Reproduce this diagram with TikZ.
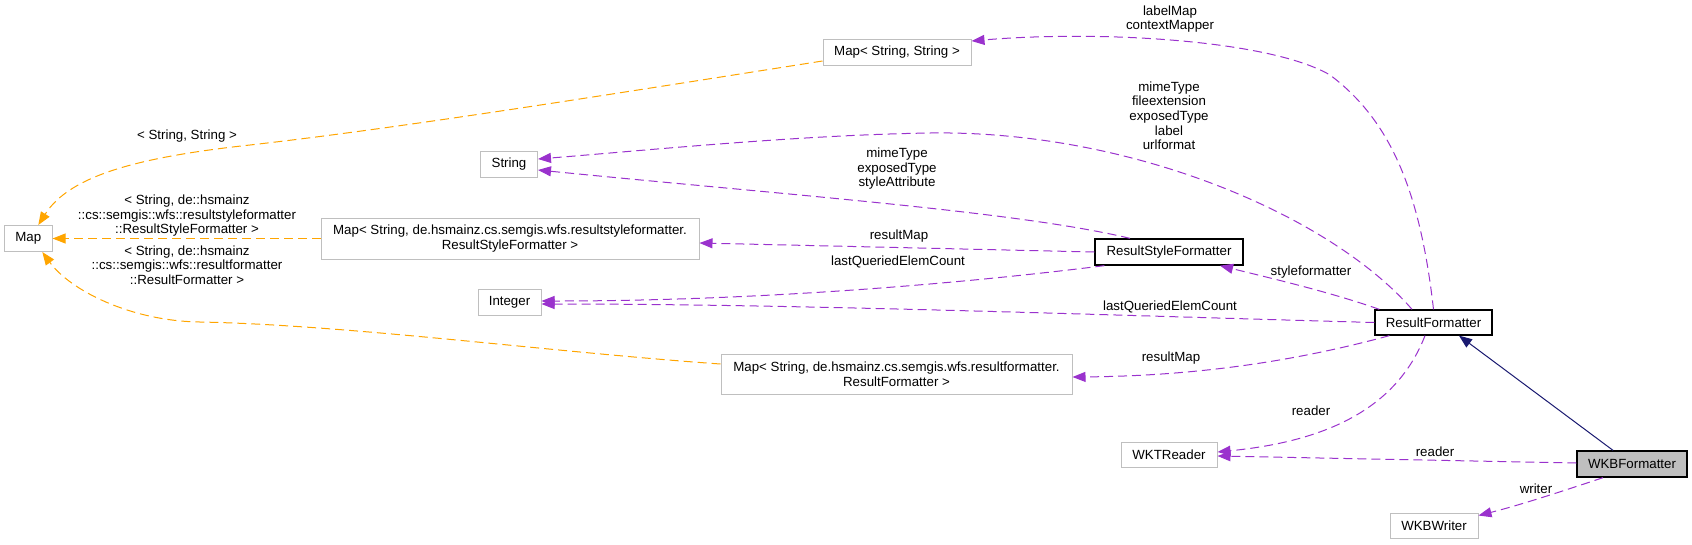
\documentclass[tikz,border=0pt]{standalone}
\usepackage{fontspec}
\setmainfont{Liberation Sans}
\usetikzlibrary{arrows.meta}
\definecolor{boxgray}{HTML}{BFBFBF}
\definecolor{usepurple}{HTML}{9A32CD}
\definecolor{tplorange}{HTML}{FFA500}
\definecolor{inhnavy}{HTML}{191970}
\newcommand{\diafont}{\fontsize{13.3}{14.6}\selectfont}
\begin{document}
\begin{tikzpicture}[x=1pt, y=-1pt,
        ext/.style={draw=boxgray, line width=1pt, fill=white, minimum height=26pt, inner sep=0pt, font=\diafont, align=center},
        cls/.style={ext, draw=black, line width=1.3pt},
        lbl/.style={font=\diafont, align=center, inner sep=0pt},
        usage/.style={draw=usepurple, line width=1pt, dash pattern=on 9pt off 5pt, -{Triangle[length=13pt,width=10pt,fill=usepurple]}},
        tpl/.style={draw=tplorange, line width=1pt, dash pattern=on 9pt off 5pt, -{Triangle[length=13pt,width=10pt,fill=tplorange]}},
        inh/.style={draw=inhnavy, line width=1pt, -{Triangle[length=13pt,width=10pt,fill=inhnavy]}}]
        \useasboundingbox (0,0) rectangle (1692,544);
        \node[ext, minimum width=47.5pt] (map) at (28.3,238.5) {Map};
        \node[ext, minimum width=148pt] (mapss) at (897,52) {Map< String, String >};
        \node[ext, minimum width=57pt] (string) at (509,164) {String};
        \node[ext, minimum width=378pt, minimum height=41pt] (maprsf) at (510,238.5) {Map< String, de.hsmainz.cs.semgis.wfs.resultstyleformatter.\\ResultStyleFormatter >};
        \node[ext, minimum width=63pt] (integer) at (509.5,302) {Integer};
        \node[ext, minimum width=351pt, minimum height=40pt] (maprf) at (896.5,374) {Map< String, de.hsmainz.cs.semgis.wfs.resultformatter.\\ResultFormatter >};
        \node[cls, minimum width=148pt] (rsf) at (1169,252) {ResultStyleFormatter};
        \node[cls, minimum width=117pt, minimum height=25pt] (rf) at (1433.5,322.5) {ResultFormatter};
        \node[ext, minimum width=96pt, minimum height=25pt] (wktreader) at (1169,454.5) {WKTReader};
        \node[cls, fill=boxgray, minimum width=110pt] (wkbf) at (1632,464) {WKBFormatter};
        \node[ext, minimum width=88pt, minimum height=25pt] (wkbwriter) at (1434,525.5) {WKBWriter};
        \draw[tpl] ([yshift=-9pt]mapss.west) .. controls (600,96) and (400,128) .. (250,145) .. controls (140,157) and (70,175) .. ([xshift=10pt]map.north);
        \node[lbl] (lssmap) at (187,136) {< String, String >};
        \draw[tpl] (maprsf.west) -- (map.east);
        \node[lbl] (lrsfmap) at (187,215.7) {< String, de::hsmainz\\::cs::semgis::wfs::resultstyleformatter\\::ResultStyleFormatter >};
        \draw[tpl] ([yshift=10pt]maprf.west) .. controls (550,352) and (350,325) .. (200,322) .. controls (130,321) and (70,290) .. ([xshift=14pt]map.south);
        \node[lbl] (lrfmap) at (187,265) {< String, de::hsmainz\\::cs::semgis::wfs::resultformatter\\::ResultFormatter >};
        \draw[usage] (rf.north) .. controls (1420,190) and (1390,120) .. (1330,75) .. controls (1270,40) and (1100,30) .. ([yshift=11pt]mapss.east);
        \node[lbl] (lrfmss) at (1170,19) {labelMap\\contextMapper};
        \draw[usage] ([xshift=-21.5pt]rf.north) .. controls (1330,215) and (1130,130) .. (930,133) .. controls (800,135) and (650,150) .. ([yshift=5pt]string.east);
        \node[lbl] (lrfstr) at (1169,115.7) {mimeType\\fileextension\\exposedType\\label\\urlformat};
        \draw[usage] ([xshift=-39pt]rsf.north) .. controls (1020,212) and (800,196) .. ([yshift=-6pt]string.east);
        \node[lbl] (lrsfstr) at (897,168.7) {mimeType\\exposedType\\styleAttribute};
        \draw[usage] (rsf.west) -- ([yshift=-4.5pt]maprsf.east);
        \node[lbl] (lrsfmrsf) at (899,235.7) {resultMap};
        \draw[usage] ([xshift=10pt]rsf.south west) .. controls (950,285) and (750,301) .. ([yshift=1pt]integer.east);
        \node[lbl] (lrsfint) at (898,262.3) {lastQueriedElemCount};
        \draw[usage] ([xshift=5pt]rf.north west) .. controls (1330,292) and (1270,278) .. ([xshift=51pt]rsf.south);
        \node[lbl] (lrfrsf) at (1311,271.7) {styleformatter};
        \draw[usage] (rf.west) .. controls (1100,315) and (800,304) .. ([yshift=-2pt]integer.east);
        \node[lbl] (lrfint) at (1170,307.3) {lastQueriedElemCount};
        \draw[usage] ([xshift=15pt]rf.south west) .. controls (1300,360) and (1200,376) .. ([yshift=-3pt]maprf.east);
        \node[lbl] (lrfmrf) at (1171,358.3) {resultMap};
        \draw[usage] ([xshift=-8.5pt]rf.south) .. controls (1400,400) and (1340,440) .. ([yshift=2.5pt]wktreader.east);
        \node[lbl] (lrfwkt) at (1311,410.7) {reader};
        \draw[inh] ([xshift=-19pt]wkbf.north) -- ([xshift=25.5pt]rf.south);
        \draw[usage] ([yshift=1pt]wkbf.west) -- ([yshift=-1.5pt]wktreader.east);
        \node[lbl] (lwkbwkt) at (1435,451.7) {reader};
        \draw[usage] ([xshift=-29pt]wkbf.south) .. controls (1560,492) and (1520,505) .. ([yshift=10pt]wkbwriter.east);
        \node[lbl] (lwkbw) at (1536,488.7) {writer};
\end{tikzpicture}
\end{document}
